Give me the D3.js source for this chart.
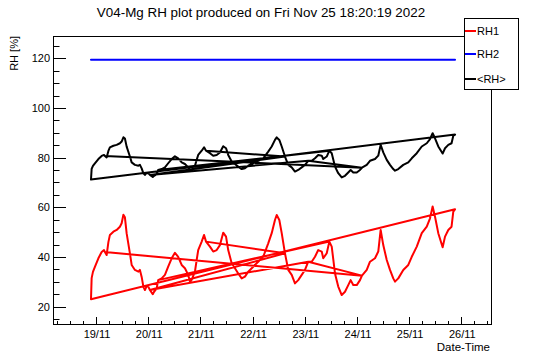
<!DOCTYPE html>
<html><head><meta charset="utf-8">
<script src="https://cdn.jsdelivr.net/npm/d3@7"></script>
<style>
body{margin:0;background:#fff}
svg{display:block}
text{font-family:"Liberation Sans",Arial,Helvetica,sans-serif;fill:#000}
</style>
</head><body>
<svg id="chart" width="546" height="362"></svg>
<script>
// Hours since 19/11/2022 00:00 (time-sorted samples)
const hours = [-2.3,-2.0,-1.4,-0.5,1.1,2.6,3.7,4.1,4.9,5.7,
6.4,8.0,9.5,11.0,11.8,12.6,13.3,14.1,15.6,16.4,
17.9,19.5,20.2,21.0,21.8,22.5,23.3,24.1,24.8,26.1,
26.7,27.9,28.6,30.2,31.7,33.2,34.8,36.3,37.8,39.4,
40.9,42.4,43.2,44.0,45.5,46.3,47.0,48.6,49.7,50.6,
52.4,53.9,55.5,57.0,58.5,59.8,60.8,62.4,63.9,65.4,
67.0,68.5,70.0,72.3,74.6,76.9,79.2,80.8,82.3,83.1,
84.3,85.4,86.9,88.4,90.0,91.5,93.0,94.6,96.1,97.6,
99.2,100.7,102.2,103.8,104.5,106.1,107.3,108.4,109.9,111.4,
113.0,114.5,116.0,117.1,118.3,119.9,121.4,122.3,124.5,126.0,
128.3,129.8,130.9,132.1,133.7,135.2,136.7,137.5,139.0,141.3,
143.6,145.2,147.5,149.8,152.1,153.6,154.8,155.9,157.4,159.4,
160.5,162.0,163.5,164.3,165.1];
const rh1 = [23,31.5,34,36,39.5,42,42.8,42,40.8,46,
48.9,50.2,50.9,52.2,53.6,57,56,49.5,41.5,36.8,
34.8,34.1,34.8,32,28,26.7,28.3,28,26.7,25,
26,27.4,30.7,31.4,32.8,36.1,39.5,41.7,40.1,36.8,
35.5,32.8,30.1,30.8,34.1,38.8,42.8,46.2,48.9,46.2,
44.2,42.2,42.8,44.8,49.8,48.2,42.8,37.5,35.5,33.4,
31.4,32.1,34.1,36.1,38.1,40.1,45.5,49.6,54.9,56.9,
54.9,49.6,41.5,34.8,32.8,29.4,30.7,32.8,34.8,38.1,
38.1,40.1,42.8,42.2,39.5,41.5,46.2,44.2,33.4,28.1,
24.7,26,28.7,30.7,28.7,28.7,30.7,32.5,34.8,38.1,
39.5,42.2,50.9,44.8,38.8,34.8,31.4,30.1,31.4,34.8,
36.8,40.1,44.2,49.6,52.2,55.6,60.3,56.2,49.6,43.9,
48.2,50.9,52.2,58.3,59.2];
const rh2 = [119.4,119.4,119.4,119.4,119.4,119.4,119.4,119.4,119.4,119.4,
119.4,119.4,119.4,119.4,119.4,119.4,119.4,119.4,119.4,119.4,
119.4,119.4,119.4,119.4,119.4,119.4,119.4,119.4,119.4,119.4,
119.4,119.4,119.4,119.4,119.4,119.4,119.4,119.4,119.4,119.4,
119.4,119.4,119.4,119.4,119.4,119.4,119.4,119.4,119.4,119.4,
119.4,119.4,119.4,119.4,119.4,119.4,119.4,119.4,119.4,119.4,
119.4,119.4,119.4,119.4,119.4,119.4,119.4,119.4,119.4,119.4,
119.4,119.4,119.4,119.4,119.4,119.4,119.4,119.4,119.4,119.4,
119.4,119.4,119.4,119.4,119.4,119.4,119.4,119.4,119.4,119.4,
119.4,119.4,119.4,119.4,119.4,119.4,119.4,119.4,119.4,119.4,
119.4,119.4,119.4,119.4,119.4,119.4,119.4,119.4,119.4,119.4,
119.4,119.4,119.4,119.4,119.4,119.4,119.4,119.4,119.4,119.4,
119.4,119.4,119.4,119.4,119.4];
const rhAvg = [71.2,75.45,76.7,77.7,79.45,80.7,81.1,80.7,80.1,82.7,
84.15,84.8,85.15,85.8,86.5,88.2,87.7,84.45,80.45,78.1,
77.1,76.75,77.1,75.7,73.7,73.05,73.85,73.7,73.05,72.2,
72.7,73.4,75.05,75.4,76.1,77.75,79.45,80.55,79.75,78.1,
77.45,76.1,74.75,75.1,76.75,79.1,81.1,82.8,84.15,82.8,
81.8,80.8,81.1,82.1,84.6,83.8,81.1,78.45,77.45,76.4,
75.4,75.75,76.75,77.75,78.75,79.75,82.45,84.5,87.15,88.15,
87.15,84.5,80.45,77.1,76.1,74.4,75.05,76.1,77.1,78.75,
78.75,79.75,81.1,80.8,79.45,80.45,82.8,81.8,76.4,73.75,
72.05,72.7,74.05,75.05,74.05,74.05,75.05,75.95,77.1,78.75,
79.45,80.8,85.15,82.1,79.1,77.1,75.4,74.75,75.4,77.1,
78.1,79.75,81.8,84.5,85.8,87.5,89.85,87.8,84.5,81.65,
83.8,85.15,85.8,88.85,89.3];
// order in which the data chunks were read (first hour, last hour)
const readOrder = [[50.6,86.9],[24.8,28.6],[107.3,122.3],[4.1,24.8],[97.6,107.3],[28.6,50.6],[86.9,97.6],[122.3,165.1],[-2.3,4.1]];
const seriesNames = ["RH1","RH2","<RH>"];
const seriesColors = ["#ff0000","#0000ff","#000000"];
const titleText = "V04-Mg RH plot produced on Fri Nov 25 18:20:19 2022";
const yTicks = [20,40,60,80,100,120];
const xDomainHours = [-19.77, 182.1];
const yDomain = [12.63, 128.98];

const base = Date.UTC(2022,10,19,0,0,0);
const toDate = h => new Date(base + h*3600e3);

const svg = d3.select("#chart");
const L=53, R=492, T=36, B=325;
const x = d3.scaleUtc().domain(xDomainHours.map(toDate)).range([L,R]);
const y = d3.scaleLinear().domain(yDomain).range([B,T]);

// file-order index list
const idx = [];
readOrder.forEach(([a,b])=>{
  hours.forEach((h,i)=>{ if(h>=a-0.01 && h<=b+0.01) idx.push(i); });
});

svg.append("rect").attr("width",546).attr("height",362).attr("fill","#fff");

// frame
svg.append("rect").attr("x",L+0.5).attr("y",T+0.5).attr("width",R-L-1).attr("height",B-T-1)
  .attr("fill","none").attr("stroke","#000").attr("stroke-width",1);

// y axis ticks
const yMinor = d3.range(15,129,5);
const gy = svg.append("g");
yMinor.forEach(v=>{
  const major = v%20===0;
  gy.append("line").attr("x1",L).attr("x2",L+(major?13:6.5))
    .attr("y1",Math.round(y(v))+0.5).attr("y2",Math.round(y(v))+0.5)
    .attr("stroke","#000").attr("stroke-width",1);
});
yTicks.forEach(v=>{
  gy.append("text").attr("x",50).attr("y",y(v)).attr("dy","0.36em")
    .attr("text-anchor","end").attr("font-size","11px").text(v);
});

// x axis ticks
const xt = d3.utcHour.every(6).range(...x.domain());
const gx = svg.append("g");
xt.forEach(d=>{
  const major = d.getUTCHours()===0;
  const px = Math.round(x(d))+0.5;
  gx.append("line").attr("x1",px).attr("x2",px).attr("y1",B).attr("y2",B-(major?8:4))
    .attr("stroke","#000").attr("stroke-width",1);
  if(major){
    gx.append("text").attr("x",x(d)+1).attr("y",338).attr("text-anchor","middle")
      .attr("font-size","11px").text(d3.utcFormat("%d/%m")(d));
  }
});

// series
const line = vals => d3.line().x(i=>x(toDate(hours[i]))).y(i=>y(vals[i]))(idx);
[rh1,rh2,rhAvg].forEach((vals,k)=>{
  svg.append("path").attr("d",line(vals)).attr("fill","none")
    .attr("stroke",seriesColors[k]).attr("stroke-width",2).attr("stroke-linejoin","round");
});

// titles
svg.append("text").attr("x",261).attr("y",17).attr("text-anchor","middle")
  .attr("font-size","13.4px").text(titleText);
svg.append("text").attr("transform","translate(18,36) rotate(-90)").attr("text-anchor","end")
  .attr("font-size","11px").text("RH [%]");
svg.append("text").attr("x",490).attr("y",351).attr("text-anchor","end")
  .attr("font-size","11.5px").text("Date-Time");

// legend
const lg = svg.append("g");
lg.append("rect").attr("x",464.5).attr("y",18.5).attr("width",54).attr("height",71)
  .attr("fill","#fff").attr("stroke","#000").attr("stroke-width",1);
const ly = [31,54,79];
seriesNames.forEach((n,k)=>{
  lg.append("line").attr("x1",465).attr("x2",476).attr("y1",ly[k]).attr("y2",ly[k])
    .attr("stroke",seriesColors[k]).attr("stroke-width",2);
  lg.append("text").attr("x",477).attr("y",ly[k]).attr("dy","0.36em")
    .attr("font-size","11px").text(n);
});
</script>
</body></html>
